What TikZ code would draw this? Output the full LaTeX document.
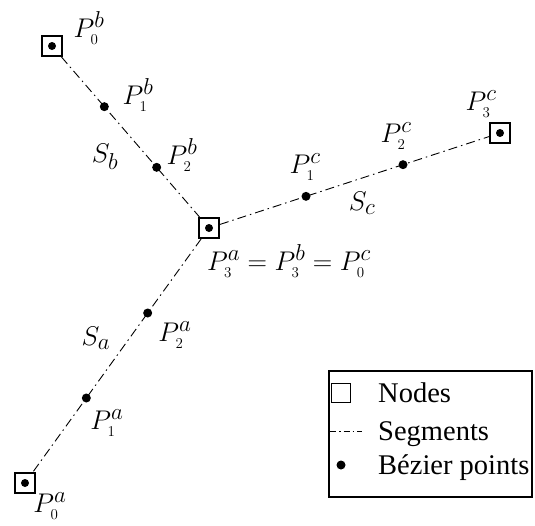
\RequirePackage{fix-cm}
\documentclass[tikz,border=0pt]{standalone}
\usepackage[no-math]{fontspec}
\setmainfont{Liberation Serif}
\usetikzlibrary{calc}
% large superscripts, small digit subscripts
\DeclareMathSizes{27}{27}{23}{15}
\newcommand{\Pt}[2]{P^{#2}_{\scriptscriptstyle #1}}
\begin{document}
\begin{tikzpicture}[x=1pt,y=-1pt,
  segline/.style={line width=0.9pt, dash pattern=on 9pt off 4pt on 1.5pt off 4pt},
  endnode/.style={draw, line width=1.9pt, rectangle, minimum size=20pt, inner sep=0pt},
  bpoint/.style={circle, fill, inner sep=0pt, minimum size=9pt},
  lab/.style={inner sep=0pt, font=\fontsize{27}{32}\selectfont},
  legtext/.style={inner sep=0pt, anchor=base west, font=\fontsize{28.5}{34}\selectfont}]
\useasboundingbox (0,0) rectangle (535,525);

% end nodes of the three segments
\node[endnode] (nb0) at (52,46) {};
\node[endnode] (nj) at (209,228) {};
\node[endnode] (nc3) at (500,133) {};
\node[endnode] (na0) at (25,483) {};

% segments
\draw[segline] (nb0) -- (nj);
\draw[segline] (nj) -- (nc3);
\draw[segline] (nj) -- (na0);

% centre dots of the end nodes
\foreach \n in {nb0,nj,nc3,na0}
  \node[bpoint, minimum size=8pt] at (\n.center) {};

% intermediate Bezier points
\node[bpoint] (pb1) at ($(nb0)!1/3!(nj)$) {};
\node[bpoint] (pb2) at ($(nb0)!2/3!(nj)$) {};
\node[bpoint] (pc1) at ($(nj)!1/3!(nc3)$) {};
\node[bpoint] (pc2) at ($(nj)!2/3!(nc3)$) {};
\node[bpoint] (pa2) at ($(nj)!1/3!(na0)$) {};
\node[bpoint] (pa1) at ($(nj)!2/3!(na0)$) {};

% labels
\node[lab] (lb0) at (89,28) {$\Pt0b$};
\node[lab] (lb1) at (138,95) {$\Pt1b$};
\node[lab] (lsb) at (105,157) {$S_b$};
\node[lab] (lb2) at (182,155) {$\Pt2b$};
\node[lab] (lc1) at (305,167) {$\Pt1c$};
\node[lab] (lsc) at (362,203) {$S_c$};
\node[lab] (lc2) at (396,136) {$\Pt2c$};
\node[lab] (lc3) at (481,104) {$\Pt3c$};
\node[lab] (ljoin) at (289,261) {$\Pt3a=\Pt3b=\Pt0c$};
\node[lab] (lsa) at (96,338) {$S_a$};
\node[lab] (la2) at (175,335) {$\Pt2a$};
\node[lab] (la1) at (107,423) {$\Pt1a$};
\node[lab] (la0) at (50,506) {$\Pt0a$};

% legend
\node[draw, line width=1.8pt, rectangle, minimum width=203pt, minimum height=126pt, inner sep=0pt] (legend) at (430.5,434) {};
\node[draw, line width=1.8pt, rectangle, minimum size=19pt, inner sep=0pt] (legsq) at (341,393) {};
\coordinate (legl) at (330,431);
\coordinate (legr) at (362,431);
\draw[segline, line width=0.6pt, dash pattern=on 6pt off 3pt on 1.5pt off 3pt] (legl) -- (legr);
\node[bpoint] (legdot) at (341,465) {};
\node[legtext] (tnodes) at (378,402) {Nodes};
\node[legtext] (tseg) at (378,440) {Segments};
\node[legtext] (tbez) at (378,474) {Bézier points};
\end{tikzpicture}
\end{document}
